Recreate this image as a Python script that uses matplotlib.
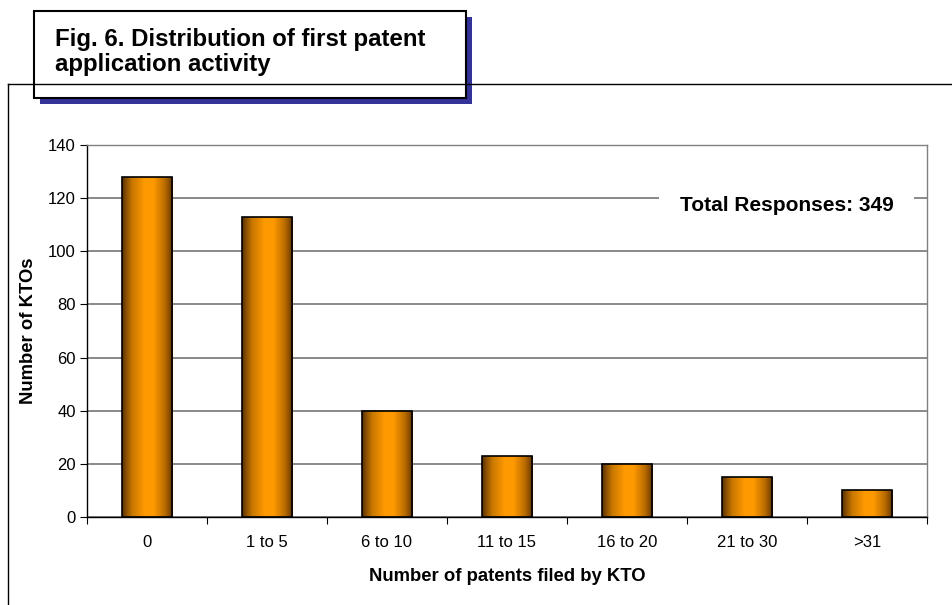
import numpy as np
import matplotlib.pyplot as plt
from matplotlib.colors import LinearSegmentedColormap
from matplotlib.patches import Rectangle
from matplotlib.lines import Line2D

plt.rcParams['font.family'] = ['Liberation Sans', 'DejaVu Sans']

categories = ['0', '1 to 5', '6 to 10', '11 to 15', '16 to 20', '21 to 30', '>31']
counts = [128, 113, 40, 23, 20, 15, 10]
total = sum(counts)

# brown -> orange -> brown shading across each bar
shade = LinearSegmentedColormap.from_list(
    'shade', [(0.0, '#5a3200'), (0.2, '#c97800'), (0.45, '#ff9a00'),
              (0.62, '#ff9900'), (0.85, '#b86a00'), (1.0, '#5e3400')])

fig = plt.figure(figsize=(9.53, 6.05), dpi=100)

# outer frame (left and top edges only)
fig.add_artist(Line2D([8 / 953, 8 / 953], [0, 1 - 84 / 605], color='black', lw=1.0))
fig.add_artist(Line2D([8 / 953, 1], [1 - 84 / 605, 1 - 84 / 605], color='black', lw=1.0))

ax = fig.add_axes([87 / 953, 1 - 517 / 605, (927 - 87) / 953, (517 - 145) / 605])
x = np.arange(len(categories))
bars = ax.bar(x, counts, width=0.42, facecolor='none', edgecolor='black', lw=1.2, zorder=3)

grad = np.linspace(0, 1, 256).reshape(1, -1)
for b in bars:
    x0, y0 = b.get_x(), b.get_y()
    im = ax.imshow(grad, cmap=shade, aspect='auto', zorder=2,
                   extent=[x0, x0 + b.get_width(), y0, y0 + b.get_height()])
    im.set_clip_path(b)

ax.set_xlim(-0.5, len(categories) - 0.5)
ax.set_ylim(0, 140)
ax.set_yticks(range(0, 141, 20))
ax.set_xticks(x)
ax.set_xticklabels(categories)
ax.set_xticks(np.arange(-0.5, len(categories), 1), minor=True)
ax.tick_params(axis='x', which='major', length=0, pad=13, labelsize=12)
ax.tick_params(axis='x', which='minor', length=5, direction='out', width=0.8)
ax.tick_params(axis='y', length=5, direction='out', width=0.8, labelsize=12, pad=3)
ax.yaxis.grid(True, color='#808080', lw=1.3, zorder=0)
ax.set_axisbelow(True)

for side in ('top', 'right'):
    ax.spines[side].set_color('#808080')
    ax.spines[side].set_linewidth(1.0)
ax.spines['left'].set_linewidth(1.0)
ax.spines['bottom'].set_linewidth(1.0)

ax.set_xlabel('Number of patents filed by KTO', fontsize=13.3, fontweight='bold', labelpad=13)
ax.set_ylabel('Number of KTOs', fontsize=13.3, fontweight='bold', labelpad=8)

ax.text(0.833, 117.3, 'Total Responses: %d' % total, transform=ax.get_yaxis_transform(),
        ha='center', va='center', fontsize=15, fontweight='bold', zorder=4,
        bbox=dict(facecolor='white', edgecolor='none', pad=15))

# title box with blue drop shadow
fig.add_artist(Rectangle((40 / 953, 1 - 104 / 605), 432 / 953, 87 / 605,
                         facecolor='#333399', edgecolor='none'))
fig.add_artist(Rectangle((34 / 953, 1 - 98 / 605), 432 / 953, 87 / 605,
                         facecolor='white', edgecolor='black', lw=1.5))
fig.text(55 / 953, 1 - 52 / 605, 'Fig. 6. Distribution of first patent\napplication activity',
         fontsize=17.3, fontweight='bold', ha='left', va='center', linespacing=1.1)

fig.savefig('out.png', dpi=100)
